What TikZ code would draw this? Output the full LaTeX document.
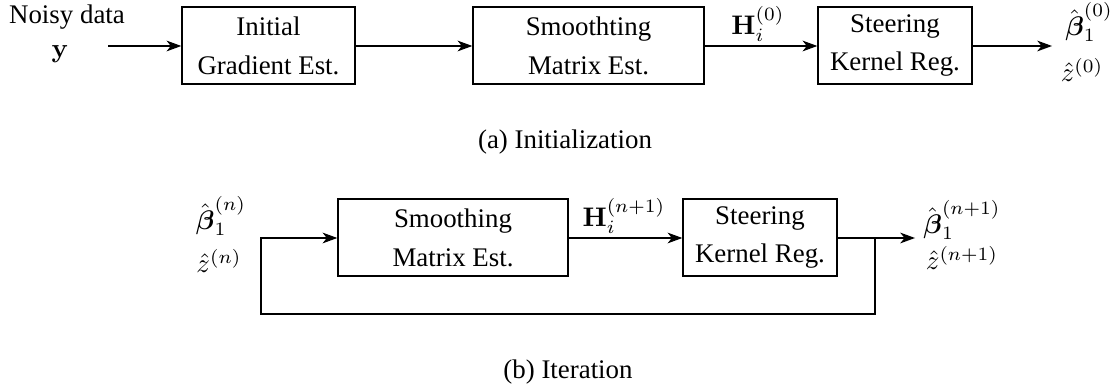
\documentclass[tikz,border=0pt]{standalone}
\usepackage{amsmath}
\usepackage[no-math]{fontspec}
\setmainfont{Liberation Serif}
\usetikzlibrary{arrows.meta}
\tikzset{
  box/.style={draw, line width=0.5pt, minimum height=28.64pt, inner sep=0pt, align=center, font=\fontsize{10}{12}\selectfont},
  lbl/.style={inner sep=0pt, font=\fontsize{10}{12}\selectfont},
  arr/.style={line width=0.5pt, -{Stealth[length=5.5pt, width=4pt, inset=1.6pt]}},
  ln/.style={line width=0.5pt},
}
\begin{document}
\begin{tikzpicture}[x=0.372pt, y=-0.372pt]
\useasboundingbox (0,0) rectangle (1116,385);
% (a) Initialization
\node[lbl] (noisy) at (67,17) {Noisy data};
\node[lbl] (ydata) at (60,54) {$\mathbf{y}$};
\coordinate (in1) at (108,46);
\node[box, minimum width=64.36pt] (b1) at (268.5,45.5) {Initial\\[2.5pt]Gradient Est.};
\node[box, minimum width=85.93pt] (b2) at (588.5,45.5) {Smoothting\\[2.5pt]Matrix Est.};
\node[box, minimum width=57.29pt] (b3) at (895,45.5) {Steering\\[2.5pt]Kernel Reg.};
\coordinate (out1) at (1052,46);
\node[lbl] (h0) at (758,24) {$\mathbf{H}_i^{(0)}$};
\node[lbl] (beta0) at (1089,22) {$\hat{\boldsymbol\beta}_1^{(0)}$};
\node[lbl] (z0) at (1082,70) {$\hat{z}^{(0)}$};
\draw[arr] (in1) -- (b1.west |- in1);
\draw[arr] (b1.east |- in1) -- (b2.west |- in1);
\draw[arr] (b2.east |- in1) -- (b3.west |- in1);
\draw[arr] (b3.east |- in1) -- (out1);
\node[lbl] (capa) at (565,142) {(a) Initialization};
% (b) Iteration
\node[lbl] (betan) at (221,216) {$\hat{\boldsymbol\beta}_1^{(n)}$};
\node[lbl] (zn) at (219,261) {$\hat{z}^{(n)}$};
\node[box, minimum width=85.56pt] (b4) at (453,237.5) {Smoothing\\[2.5pt]Matrix Est.};
\node[box, minimum width=57.29pt] (b5) at (760,237.5) {Steering\\[2.5pt]Kernel Reg.};
\node[lbl] (hn) at (624,216) {$\mathbf{H}_i^{(n+1)}$};
\node[lbl] (betan1) at (962,220) {$\hat{\boldsymbol\beta}_1^{(n+1)}$};
\node[lbl] (zn1) at (962,258) {$\hat{z}^{(n+1)}$};
\coordinate (br) at (875,238);
\coordinate (out2) at (915,238);
\coordinate (fb1) at (875,314);
\coordinate (fb2) at (261,314);
\coordinate (fb3) at (261,238);
\draw[arr] (b4.east |- br) -- (b5.west |- br);
\draw[arr] (b5.east |- br) -- (out2);
\draw[arr] (br) -- (fb1) -- (fb2) -- (fb3) -- (b4.west |- fb3);
\node[lbl] (capb) at (568,372) {(b) Iteration};
\end{tikzpicture}
\end{document}
